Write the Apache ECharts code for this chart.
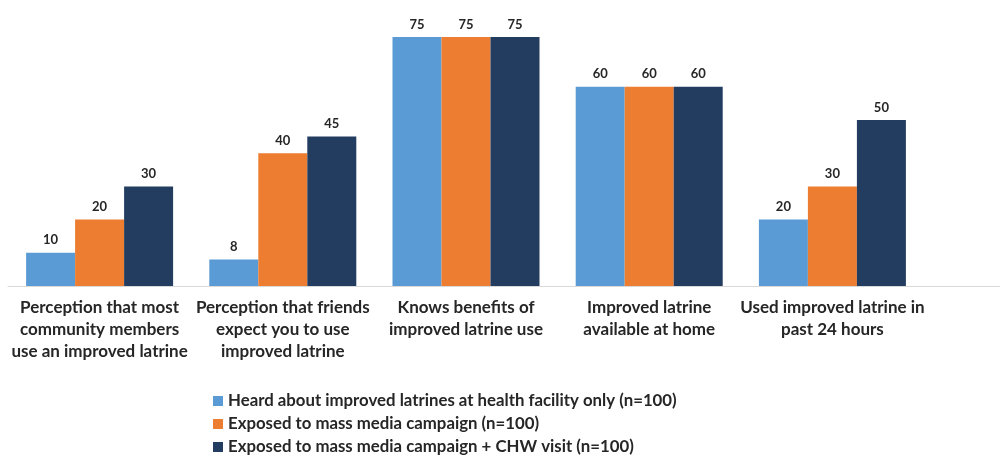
<!DOCTYPE html>
<html><head><meta charset="utf-8">
<script src="https://cdn.jsdelivr.net/npm/echarts@6/dist/echarts.min.js"></script>
<style>html,body{margin:0;padding:0;background:#fff}#c{width:1000px;height:458px}</style>
</head><body><div id="c"></div>
<script>
const categories = [
  "Perception that most\ncommunity members\nuse an improved latrine",
  "Perception that friends\nexpect you to use\nimproved latrine",
  "Knows benefits of\nimproved latrine use",
  "Improved latrine\navailable at home",
  "Used improved latrine in\npast 24 hours"
];
const seriesNames = [
  "Heard about improved latrines at health facility only (n=100)",
  "Exposed to mass media campaign (n=100)",
  "Exposed to mass media campaign + CHW visit (n=100)"
];
const healthFacility = [10, 8, 75, 60, 20];
const massMedia = [20, 40, 75, 60, 30];
const massMediaCHW = [30, 45, 75, 60, 50];
const colors = ["#5B9BD5", "#ED7D31", "#233D60"];

const font = "Lato, 'Open Sans', sans-serif";
const chart = echarts.init(document.getElementById('c'));
const dataSets = [healthFacility, massMedia, massMediaCHW];
chart.setOption({
  animation: false,
  textStyle: {fontFamily: font},
  grid: {left: 8, right: 76, top: 37, bottom: 172, containLabel: false},
  graphic: [{type: 'line', shape: {x1: 923, y1: 286.5, x2: 1000, y2: 286.5}, style: {stroke: '#D9D9D9', lineWidth: 1}}],
  legend: {
    orient: 'vertical', left: 208, top: 387, height: 90, itemGap: 5,
    itemWidth: 10, itemHeight: 10, icon: 'rect',
    textStyle: {fontFamily: font, fontWeight: 'bold', fontSize: 16.8, lineHeight: 18, color: '#262626'},
    data: seriesNames
  },
  xAxis: {
    type: 'category', data: categories,
    axisLine: {lineStyle: {color: '#D9D9D9', width: 1}},
    axisTick: {show: false},
    axisLabel: {interval: 0, margin: 11, fontFamily: font, fontWeight: 'bold', fontSize: 17, color: '#262626', lineHeight: 22}
  },
  yAxis: {type: 'value', min: 0, max: 75, show: false, splitLine: {show: false}},
  series: dataSets.map((d, i) => ({
    name: seriesNames[i], type: 'bar', data: d, barWidth: 49, barGap: '0%',
    itemStyle: {color: colors[i]},
    label: {show: true, position: 'top', distance: 6, fontFamily: font, fontWeight: 'bold', fontSize: 13, color: '#262626'}
  }))
});
</script></body></html>
